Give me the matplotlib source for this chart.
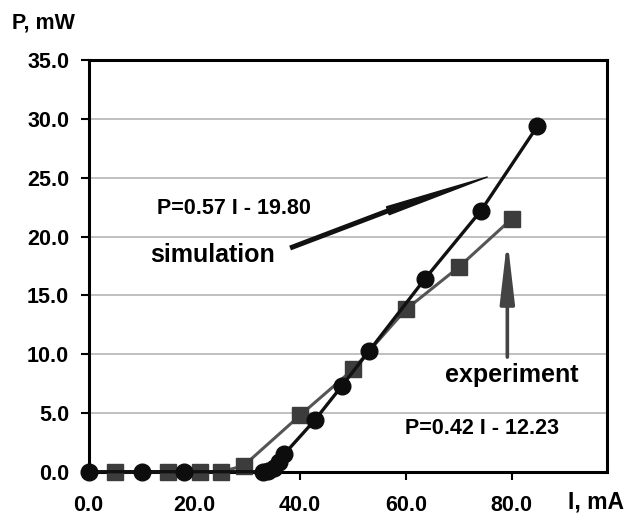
import matplotlib
matplotlib.use("Agg")
import matplotlib.pyplot as plt

plt.rcParams['font.family'] = ['Liberation Sans', 'DejaVu Sans']
plt.rcParams['font.weight'] = 'bold'

# Simulation data (circles)
sim_I = [0, 10, 18, 33, 34, 35, 36, 37, 42.8, 47.9, 53.1, 63.6, 74.2, 84.9]
sim_P = [0, 0, 0, 0, 0.1, 0.3, 0.8, 1.5, 4.4, 7.3, 10.3, 16.4, 22.2, 29.4]

# Experiment data (squares)
exp_I = [5, 15, 21, 25, 29.3, 40, 50, 60, 70, 80]
exp_P = [0, 0, 0, 0, 0.5, 4.8, 8.7, 13.8, 17.4, 21.5]

xticks = [0, 20, 40, 60, 80]
yticks = [0, 5, 10, 15, 20, 25, 30, 35]

fig = plt.figure(figsize=(6.28, 5.17), dpi=100)
ax = fig.add_axes([0.1412, 0.0876, 0.9661 - 0.1412, 0.8834 - 0.0876])

ax.set_xlim(0, 98)
ax.set_ylim(0, 35)

for v in yticks[1:-1]:
    ax.axhline(v, color='#b5b5b5', lw=1.2, zorder=0)

ax.plot(exp_I, exp_P, color='#555555', lw=2.2, marker='s', markersize=12,
        markerfacecolor='#3c3c3c', markeredgecolor='#3c3c3c', clip_on=False, zorder=3)
ax.plot(sim_I, sim_P, color='#111111', lw=2.4, marker='o', markersize=12,
        markerfacecolor='#0d0d0d', markeredgecolor='#0d0d0d', clip_on=False, zorder=4)

ax.set_xticks(xticks)
ax.set_xticklabels([f"{v:.1f}" for v in xticks])
ax.set_yticks(yticks)
ax.set_yticklabels([f"{v:.1f}" for v in yticks])
ax.tick_params(axis='x', direction='out', length=5.5, width=1.5, pad=11.5, labelsize=15.5)
ax.tick_params(axis='y', direction='out', length=6, width=1.5, pad=8, labelsize=15.5)
for lab in ax.get_xticklabels() + ax.get_yticklabels():
    lab.set_fontweight('bold')

for s in ax.spines.values():
    s.set_linewidth(2.2)
    s.set_color('black')

# annotations
ax.text(12.9, 21.9, "P=0.57 I - 19.80", fontsize=15.5, fontweight='bold', va='baseline', ha='left')
ax.text(11.6, 17.86, "simulation", fontsize=18, fontweight='bold', va='baseline', ha='left')
ax.text(67.5, 7.66, "experiment", fontsize=18, fontweight='bold', va='baseline', ha='left')
ax.text(59.9, 3.2, "P=0.42 I - 12.23", fontsize=15.5, fontweight='bold', va='baseline', ha='left')

# simulation pointer: thick shaft + tapering wedge
ax.annotate("", xy=(58.0, 22.43), xytext=(38.1, 19.03),
            arrowprops=dict(arrowstyle='-', lw=3.6, color='#111111',
                            shrinkA=0, shrinkB=0, capstyle='butt'), zorder=2)
ax.annotate("", xy=(75.4, 25.07), xytext=(56.6, 22.2),
            arrowprops=dict(arrowstyle='wedge,tail_width=0.6,shrink_factor=0.5',
                            color='#111111', mutation_scale=10,
                            shrinkA=0, shrinkB=0), zorder=2)
# experiment pointer
ax.annotate("", xy=(79.2, 19.8), xytext=(79.2, 9.75),
            arrowprops=dict(arrowstyle='-|>,head_length=3.7,head_width=0.43',
                            lw=2.6, color='#444444', mutation_scale=10,
                            shrinkA=0, shrinkB=0), zorder=2)

fig.text(12 / 628, 1 - 28 / 517, "P, mW", fontsize=15.5, fontweight='bold', va='baseline', ha='left')
fig.text(568 / 628, 1 - 508 / 517, "I, mA", fontsize=16.5, fontweight='bold', va='baseline', ha='left')

fig.savefig("out.png", dpi=100)
